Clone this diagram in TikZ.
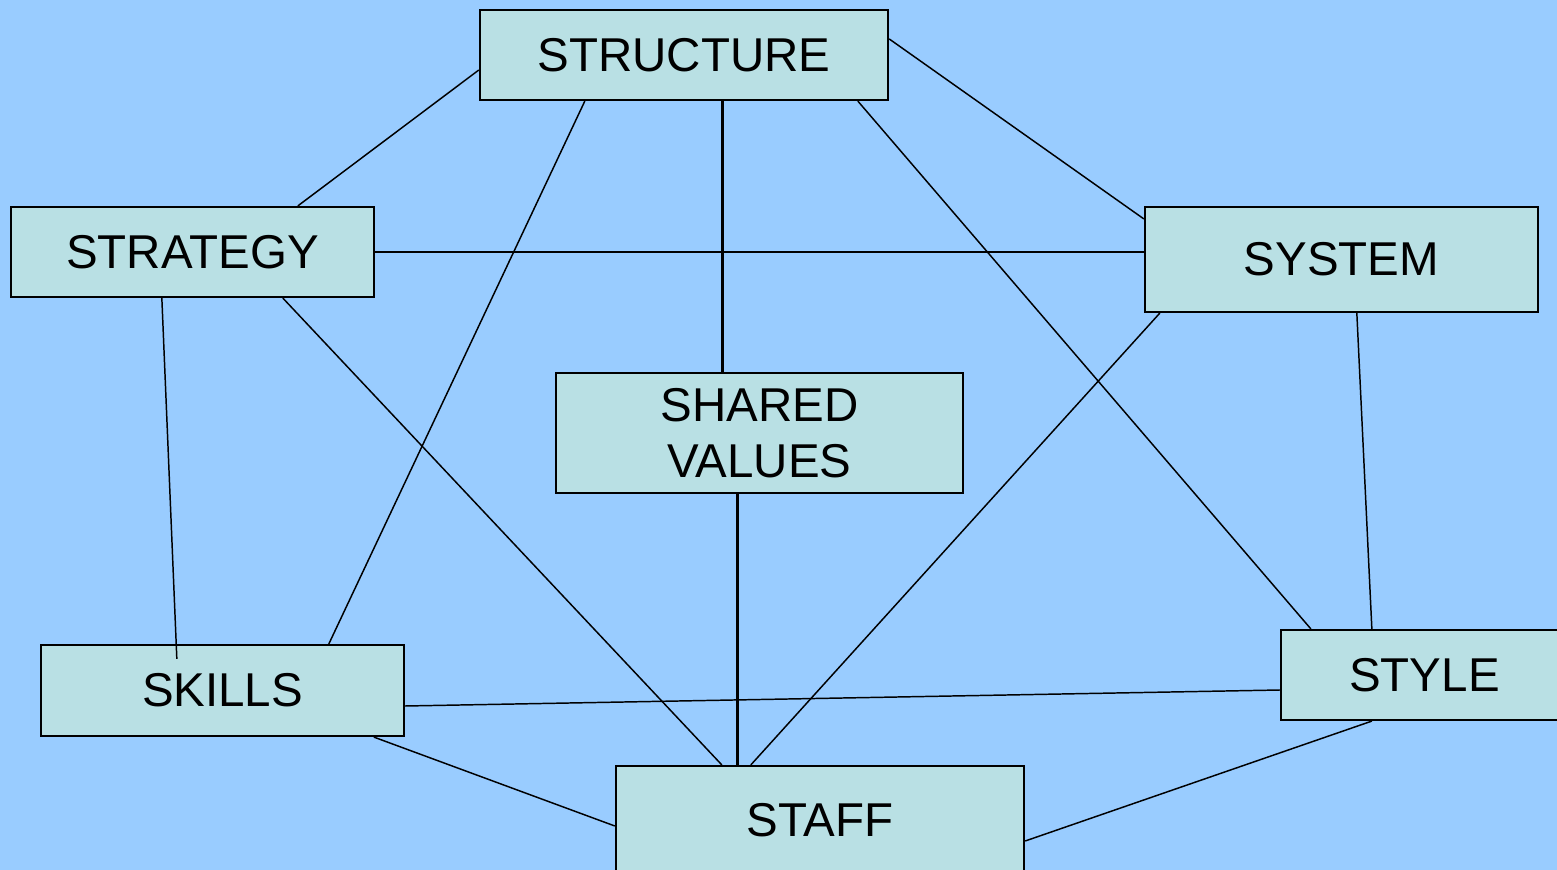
\documentclass[tikz,border=0pt]{standalone}
\usepackage{fontspec}
\setmainfont{Liberation Sans}
\usetikzlibrary{calc}
\definecolor{bgc}{RGB}{153,204,255}
\definecolor{boxc}{RGB}{185,224,228}
\tikzset{
  box/.style={draw=black, line width=0.6pt, fill=boxc, inner sep=0pt, align=center,
    font=\fontsize{13.5}{15.9}\selectfont},
  link/.style={draw=black, line width=0.42pt},
  thicklink/.style={draw=black, line width=0.85pt}
}
\begin{document}
\begin{tikzpicture}[x=0.01cm,y=-0.01cm]
\fill[bgc] (0,0) rectangle (1557,870);
\useasboundingbox (0,0) rectangle (1557,870);
\node[box, minimum width=4.08cm, minimum height=0.90cm] (structure) at (684,55) {STRUCTURE};
\node[box, minimum width=3.63cm, minimum height=0.90cm] (strategy) at (192.5,252) {STRATEGY};
\node[box, minimum width=3.93cm, minimum height=1.05cm] (system) at (1341.5,259.5) {SYSTEM};
\node[box, minimum width=4.07cm, minimum height=1.20cm] (shared) at (759.5,433) {SHARED\\VALUES};
\node[box, minimum width=3.63cm, minimum height=0.91cm] (skills) at (222.5,690.5) {SKILLS};
\node[box, minimum width=2.87cm, minimum height=0.90cm] (style) at (1424.5,675) {STYLE};
\node[box, minimum width=4.08cm, minimum height=1.08cm] (staff) at (820,820) {STAFF};
% connectors
\draw[link] ($(structure.west)+(0,15)$) -- ($(strategy.north west)+(288,0)$);
\draw[link] ($(structure.north east)+(0,30)$) -- ($(system.north west)+(0,13)$);
\draw[link] ($(structure.south west)+(106,0)$) -- ($(skills.north west)+(289,0)$);
\draw[thicklink] ($(structure.south west)+(243.5,0)$) -- ($(shared.north west)+(167.5,0)$);
\draw[link] ($(structure.south west)+(379,0)$) -- ($(style.north west)+(31,0)$);
\draw[link] (strategy.east) -- (strategy.east -| system.west);
\draw[link] ($(strategy.south west)+(152,0)$) -- ($(skills.north west)+(137,15)$);
\draw[link] ($(strategy.south west)+(273,0)$) -- ($(staff.north west)+(107,0)$);
\draw[link] ($(system.south west)+(16,0)$) -- ($(staff.north west)+(136,0)$);
\draw[link] ($(system.south west)+(213,0)$) -- ($(style.north west)+(92,0)$);
\draw[thicklink] ($(shared.south west)+(182.5,0)$) -- ($(staff.north west)+(122.5,0)$);
\draw[link] ($(skills.east)+(0,15.5)$) -- ($(style.west)+(0,15)$);
\draw[link] ($(skills.south west)+(334,0)$) -- ($(staff.west)+(0,6)$);
\draw[link] ($(style.south west)+(92,0)$) -- ($(staff.east)+(0,21)$);
\end{tikzpicture}
\end{document}
